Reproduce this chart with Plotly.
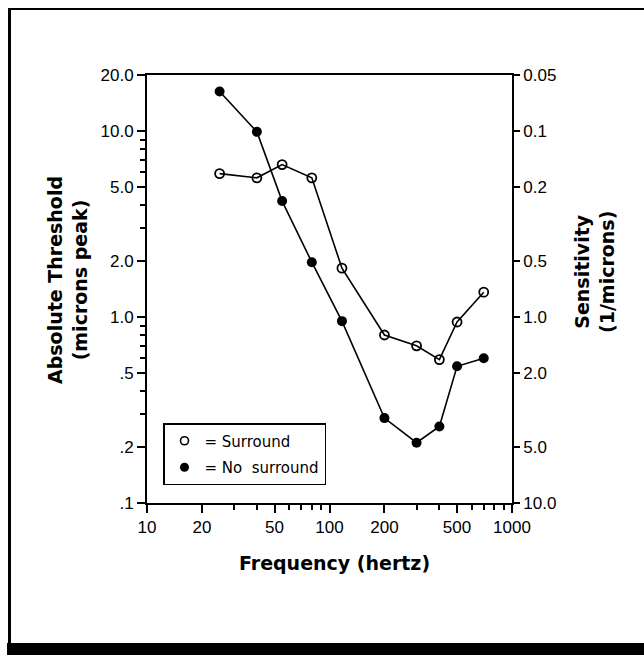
import plotly.graph_objects as go

# ---- data ----
freq = [25, 40, 55, 80, 117, 200, 300, 400, 500, 700]
thr_surround = [5.9, 5.6, 6.6, 5.6, 1.83, 0.80, 0.70, 0.59, 0.94, 1.36]
thr_no_surround = [16.3, 9.9, 4.2, 1.97, 0.95, 0.286, 0.211, 0.258, 0.543, 0.60]

x_tickvals = [10, 20, 50, 100, 200, 500, 1000]
x_ticktext = ["10", "20", "50", "100", "200", "500", "1000"]
x_minor = [30, 40, 60, 70, 80, 90, 300, 400, 600, 700, 800, 900]

y_tickvals = [20, 10, 5, 2, 1, 0.5, 0.2, 0.1]
y_ticktext = ["20.0", "10.0", "5.0", "2.0", "1.0", ".5", ".2", ".1"]
y_minor = [9, 8, 7, 6, 4, 3, 0.9, 0.8, 0.7, 0.6, 0.4, 0.3]

s_tickvals = [0.05, 0.1, 0.2, 0.5, 1, 2, 5, 10]
s_ticktext = ["0.05", "0.1", "0.2", "0.5", "1.0", "2.0", "5.0", "10.0"]

# ---- layout geometry (pixels) ----
W, H = 644, 655
L, R, T, B = 147, 132, 75, 152
PW, PH = W - L - R, H - T - B


def xp(px):
    return (px - L) / PW


def yp(py):
    return (H - B - py) / PH


tick_font = dict(family="Liberation Sans, Arial, sans-serif", size=17, color="black")
title_font = dict(family="DejaVu Sans, sans-serif", size=19, color="black")

fig = go.Figure()

fig.add_trace(go.Scatter(
    x=freq, y=thr_surround, mode="lines+markers", showlegend=False,
    line=dict(color="black", width=1.6),
    marker=dict(symbol="circle-open", size=9, color="black", line=dict(width=1.8)),
))
fig.add_trace(go.Scatter(
    x=freq, y=thr_no_surround, mode="lines+markers", showlegend=False,
    line=dict(color="black", width=1.6),
    marker=dict(symbol="circle", size=10, color="black"),
))
# legend entries
fig.add_trace(go.Scatter(
    x=[None], y=[None], mode="markers", name="= Surround", legendgroup="a",
    marker=dict(symbol="circle-open", size=8, color="black", line=dict(width=1.6)),
))
fig.add_trace(go.Scatter(
    x=[None], y=[None], mode="markers", name="= No\u00a0\u00a0surround", legendgroup="b",
    marker=dict(symbol="circle", size=9, color="black"),
))
# hidden trace to anchor the sensitivity axis
fig.add_trace(go.Scatter(x=[None], y=[None], yaxis="y2", showlegend=False,
                         hoverinfo="skip", mode="markers"))

frame = dict(type="rect", xref="paper", yref="paper", fillcolor="black",
             line=dict(width=0), layer="above")

fig.update_layout(
    width=W, height=H,
    margin=dict(l=L, r=R, t=T, b=B, pad=0),
    paper_bgcolor="white", plot_bgcolor="white",
    xaxis=dict(
        type="log", range=[1, 3],
        tickvals=x_tickvals, ticktext=x_ticktext,
        ticks="outside", ticklen=8, tickwidth=1.5, tickcolor="black",
        minor=dict(tickvals=x_minor, ticks="outside", ticklen=5, tickwidth=1.5,
                   tickcolor="black", showgrid=False),
        showline=True, linecolor="black", linewidth=1.8, mirror=True,
        showgrid=False, zeroline=False, tickfont=tick_font,
    ),
    yaxis=dict(
        type="log", range=[-1, 1.30103],
        tickvals=y_tickvals, ticktext=y_ticktext,
        ticks="outside", ticklen=8, tickwidth=1.5, tickcolor="black",
        minor=dict(tickvals=y_minor, ticks="outside", ticklen=5, tickwidth=1.5,
                   tickcolor="black", showgrid=False),
        showline=True, linecolor="black", linewidth=1.8,
        showgrid=False, zeroline=False, tickfont=tick_font,
    ),
    yaxis2=dict(
        type="log", range=[1, -1.30103], overlaying="y", side="right",
        tickvals=s_tickvals, ticktext=s_ticktext,
        ticks="outside", ticklen=6, tickwidth=1.5, tickcolor="black",
        showline=True, linecolor="black", linewidth=1.8,
        showgrid=False, zeroline=False, tickfont=tick_font,
    ),
    legend=dict(
        x=xp(163), y=yp(423), xanchor="left", yanchor="top",
        bgcolor="white", bordercolor="black", borderwidth=1.5,
        font=dict(family="DejaVu Sans, sans-serif", size=15, color="black"),
        itemwidth=30, tracegroupgap=4,
    ),
    annotations=[
        dict(text="<b>Frequency (hertz)</b>", xref="paper", yref="paper",
             x=xp(334), y=yp(563), showarrow=False, font=title_font,
             xanchor="center", yanchor="middle"),
        dict(text="<b>Absolute Threshold<br>(microns peak)</b>", xref="paper", yref="paper",
             x=xp(67), y=yp(280), showarrow=False, font=title_font, textangle=-90,
             xanchor="center", yanchor="middle"),
        dict(text="<b>Sensitivity<br>(1/microns)</b>", xref="paper", yref="paper",
             x=xp(594), y=yp(272), showarrow=False, font=title_font, textangle=-90,
             xanchor="center", yanchor="middle"),
    ],
    shapes=[
        dict(frame, x0=xp(8), x1=xp(11), y0=yp(8), y1=yp(646)),
        dict(frame, x0=xp(8), x1=xp(644), y0=yp(8), y1=yp(10)),
        dict(frame, x0=xp(7), x1=xp(644), y0=yp(643), y1=yp(655)),
    ],
)

fig.write_html(
    "out.html",
    config={"displayModeBar": False},
    post_script="document.body.style.margin='0';document.body.style.overflow='hidden';",
)
